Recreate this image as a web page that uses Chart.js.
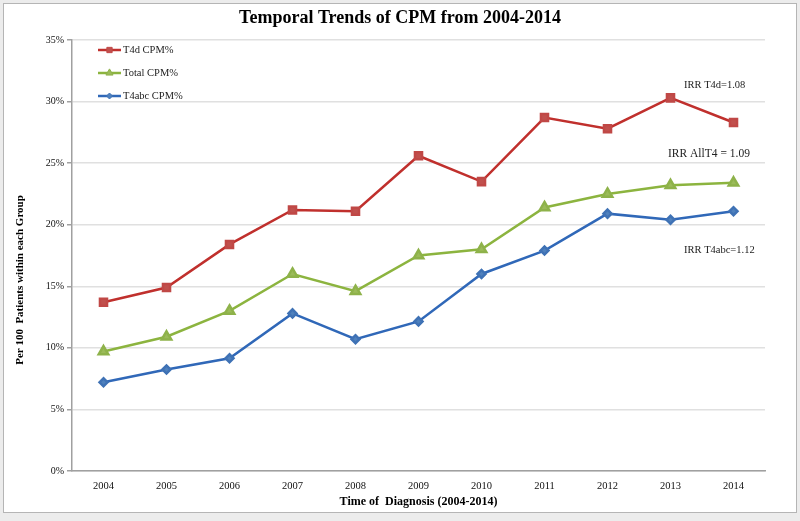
<!DOCTYPE html>
<html>
<head>
<meta charset="utf-8">
<script src="https://cdn.jsdelivr.net/npm/chart.js@4/dist/chart.umd.min.js"></script>
<style>
  html, body { margin: 0; padding: 0; background: #ececec; }
  #frame { position: absolute; left: 3px; top: 3px; width: 792px; height: 508px; background: #fff; border: 1px solid #b5b5b5; }
  #wrap { position: absolute; left: 0; top: 0; width: 800px; height: 521px; }
</style>
</head>
<body>
<div id="frame"></div>
<div id="wrap"><canvas id="c" width="800" height="521"></canvas></div>
<script>
const years = ['2004','2005','2006','2007','2008','2009','2010','2011','2012','2013','2014'];
const t4dCPM   = [13.7, 14.9, 18.4, 21.2, 21.1, 25.6, 23.5, 28.7, 27.8, 30.3, 28.3];
const totalCPM = [9.7, 10.9, 13.0, 16.0, 14.6, 17.5, 18.0, 21.4, 22.5, 23.2, 23.4];
const t4abcCPM = [7.2, 8.25, 9.15, 12.8, 10.7, 12.15, 16.0, 17.9, 20.9, 20.4, 21.1];
const seriesNames = ['T4d CPM%', 'Total CPM%', 'T4abc CPM%'];
const yTicks = [0, 5, 10, 15, 20, 25, 30, 35];
const irrNotes = ['IRR T4d=1.08', 'IRR AllT4 = 1.09', 'IRR T4abc=1.12'];

const SERIF = '"Liberation Serif", "Times New Roman", serif';

const overlay = {
  id: 'overlay',
  afterDraw(chart) {
    const ctx = chart.ctx;
    ctx.save();
    // Title
    ctx.fillStyle = '#000';
    ctx.font = 'bold 18px ' + SERIF;
    ctx.textAlign = 'center';
    ctx.textBaseline = 'middle';
    ctx.fillText('Temporal Trends of CPM from 2004-2014', 400, 18);
    // Y axis title
    ctx.save();
    ctx.translate(20, 280);
    ctx.rotate(-Math.PI / 2);
    ctx.font = 'bold 11px ' + SERIF;
    ctx.fillText('Per 100  Patients within each Group', 0, 0);
    ctx.restore();
    // Legend
    const ly = [50, 73, 96];
    chart.data.datasets.forEach((ds, i) => {
      const y = ly[i];
      ctx.strokeStyle = ds.borderColor;
      ctx.lineWidth = 2.5;
      ctx.beginPath(); ctx.moveTo(98, y); ctx.lineTo(121, y); ctx.stroke();
      ctx.fillStyle = ds.pointBackgroundColor;
      ctx.strokeStyle = ds.pointBorderColor;
      ctx.lineWidth = 1;
      Chart.helpers.drawPoint(ctx, {pointStyle: ds.pointStyle, radius: ds.pointRadius * 0.75, borderWidth: 1}, 109.5, y);
      ctx.fillStyle = '#222';
      ctx.font = '10.5px ' + SERIF;
      ctx.textAlign = 'left';
      ctx.fillText(ds.label, 123, y + 0.5);
    });
    // IRR annotations
    ctx.fillStyle = '#222';
    ctx.textAlign = 'left';
    ctx.font = '10.5px ' + SERIF;
    ctx.fillText(irrNotes[0], 684, 85);
    ctx.font = '11.5px ' + SERIF;
    ctx.fillText(irrNotes[1], 668, 154);
    ctx.font = '10.5px ' + SERIF;
    ctx.fillText(irrNotes[2], 684, 250);
    ctx.restore();
  }
};

new Chart(document.getElementById('c'), {
  type: 'line',
  data: {
    labels: years,
    datasets: [
      { label: seriesNames[0], data: t4dCPM, borderColor: '#C0302D', backgroundColor: '#C0504D',
        pointBackgroundColor: '#C0504D', pointBorderColor: '#C04846', pointStyle: 'rect', pointRadius: 5, borderWidth: 2.5 },
      { label: seriesNames[1], data: totalCPM, borderColor: '#8CB43F', backgroundColor: '#9BBB59',
        pointBackgroundColor: '#9BBB59', pointBorderColor: '#8EB24A', pointStyle: 'triangle', pointRadius: 5.5, borderWidth: 2.5 },
      { label: seriesNames[2], data: t4abcCPM, borderColor: '#3068B8', backgroundColor: '#4F81BD',
        pointBackgroundColor: '#4F81BD', pointBorderColor: '#3F72B5', pointStyle: 'rectRot', pointRadius: 4, borderWidth: 2.5 }
    ]
  },
  options: {
    responsive: false,
    animation: false,
    events: [],
    layout: { padding: { top: 40, right: 35, bottom: 0, left: 0 } },
    plugins: { legend: { display: false }, title: { display: false }, tooltip: { enabled: false } },
    elements: { line: { tension: 0 } },
    scales: {
      x: {
        offset: true,
        grid: { display: false, drawTicks: false },
        border: { display: true, color: '#a0a0a0', width: 1.5 },
        ticks: { color: '#111', font: { family: SERIF, size: 10.5 }, padding: 9, maxRotation: 0 },
        title: { display: true, text: 'Time of  Diagnosis (2004-2014)', color: '#000',
                 font: { family: SERIF, size: 12, weight: 'bold' }, padding: { top: 0, bottom: 12 } },
        afterFit(scale) { scale.height = 50; }
      },
      y: {
        min: 0, max: 35,
        afterBuildTicks(scale) { scale.ticks = yTicks.map(v => ({ value: v })); },
        grid: { color: '#e0e0e0', lineWidth: 1.5, drawTicks: true, tickLength: 5, tickColor: '#a0a0a0' },
        border: { display: true, color: '#a0a0a0', width: 1.5 },
        ticks: { color: '#111', font: { family: SERIF, size: 10 }, padding: 3, callback: v => v + '%' },
        title: { display: false },
        afterFit(scale) { scale.width = 72; }
      }
    }
  },
  plugins: [overlay]
});
</script>
</body>
</html>
